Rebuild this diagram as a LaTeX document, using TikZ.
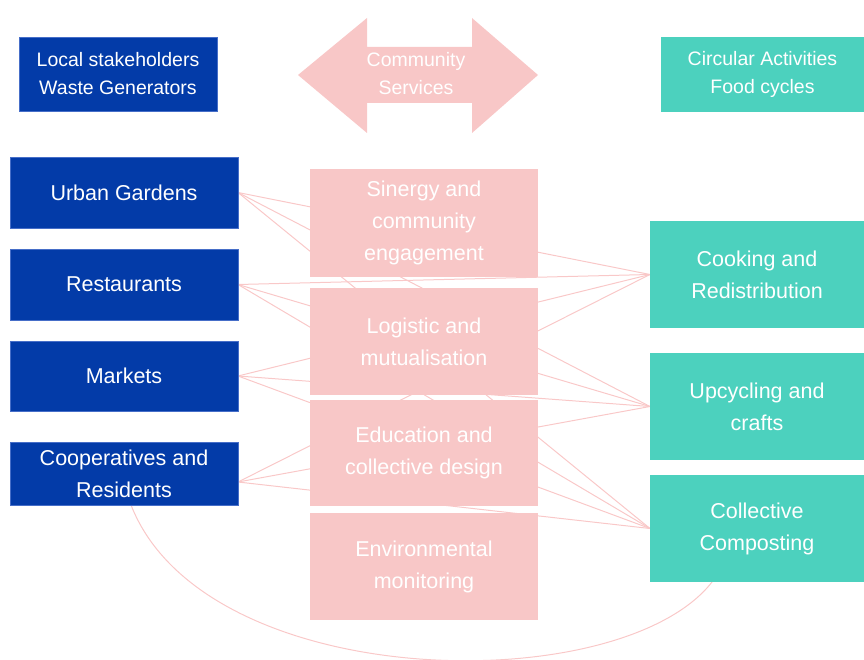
\documentclass[tikz,border=0pt]{standalone}
\usepackage{fontspec}
\setmainfont{Liberation Sans}
\definecolor{myblue}{RGB}{3,59,168}
\definecolor{myblueedge}{RGB}{70,110,200}
\definecolor{myteal}{RGB}{76,209,190}
\definecolor{mypink}{RGB}{248,199,199}
\definecolor{mylink}{RGB}{249,200,200}
\pgfdeclarelayer{bg}
\pgfsetlayers{bg,main}
\begin{document}
\begin{tikzpicture}[x=1pt,y=-1pt,
  box/.style={inner sep=0pt, outer sep=0pt, text=white, align=center, font=\fontsize{21.5}{32}\selectfont},
  hdr/.style={box, font=\fontsize{19.5}{28}\selectfont},
  bluebox/.style={fill=myblue, draw=myblueedge, line width=0.8pt},
  pinkbox/.style={box, fill=mypink},
  tealbox/.style={fill=myteal},
  link/.style={draw=mylink, line width=1pt}]
\useasboundingbox (0,0) rectangle (864,660);
% headers
\node[hdr, bluebox, minimum width=198pt, minimum height=74pt] (hdrL) at (118,74) {Local stakeholders\\Waste Generators};
\node[hdr, tealbox, minimum width=203pt, minimum height=75pt] (hdrR) at (762.5,74.5) {Circular Activities\\Food cycles};
\fill[mypink] (298,75) -- (367,18) -- (367,47) -- (472,47) -- (472,18) -- (538,75)
  -- (472,133) -- (472,103) -- (367,103) -- (367,133) -- cycle;
\node[hdr] (cs) at (416,74) {Community\\Services};
% left boxes
\node[box, bluebox, minimum width=228pt, minimum height=71pt] (ug) at (124,192.5) {Urban Gardens};
\node[box, bluebox, minimum width=228pt, minimum height=71pt] (rest) at (124,284.5) {Restaurants};
\node[box, bluebox, minimum width=228pt, minimum height=70pt] (mark) at (124,376) {Markets};
\node[box, bluebox, minimum width=228pt, minimum height=63pt] (coop) at (124,473.5) {Cooperatives and\\Residents};
\coordinate (coopL) at (238,482);
% middle boxes
\node[pinkbox, minimum width=228pt, minimum height=108pt] (syn) at (424,223) {Sinergy and\\community\\engagement};
\node[pinkbox, minimum width=228pt, minimum height=107pt] (log) at (424,341.5) {Logistic and\\mutualisation};
\node[pinkbox, minimum width=228pt, minimum height=106pt] (edu) at (424,453) {Education and\\collective design};
\node[pinkbox, minimum width=228pt, minimum height=107pt] (env) at (424,566.5) {Environmental\\monitoring};
% right boxes
\node[box, tealbox, minimum width=214pt, minimum height=107pt] (cook) at (757,274.5) {Cooking and\\Redistribution};
\node[box, tealbox, minimum width=214pt, minimum height=107pt] (upc) at (757,406.5) {Upcycling and\\crafts};
\node[box, tealbox, minimum width=214pt, minimum height=107pt] (comp) at (757,528.5) {Collective\\Composting};
% connectors
\begin{pgfonlayer}{bg}
\foreach \a in {ug.east, rest.east, mark.east, coopL}
  \foreach \b in {cook.west, upc.west, comp.west}
    \draw[link] (\a) -- (\b);
\draw[link] ([xshift=7pt]coop.south) .. controls (205,694) and (620,700) .. ([xshift=-45pt]comp.south);
\end{pgfonlayer}
\end{tikzpicture}
\end{document}
